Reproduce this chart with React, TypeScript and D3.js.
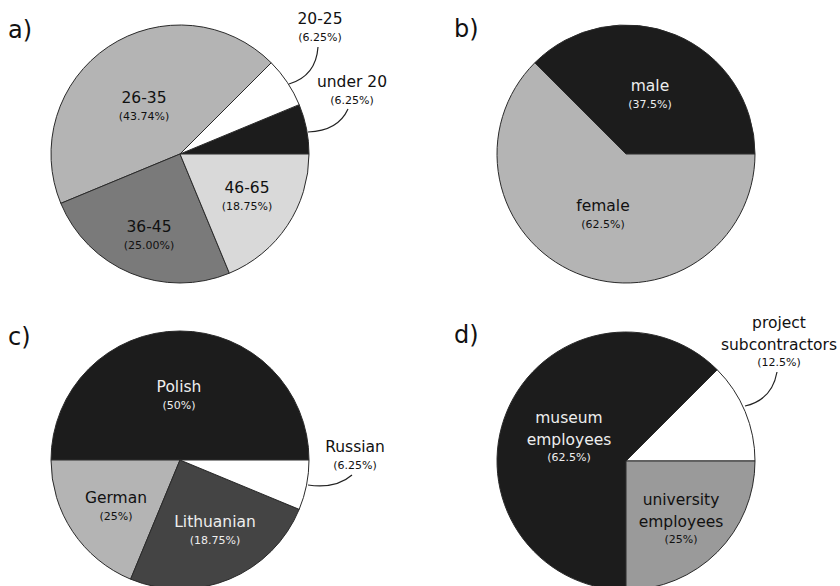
import React from "react";
import * as d3 from "d3";

// ---- data ----
const ageCategories = ["under 20", "20-25", "26-35", "36-45", "46-65"];
const ageShares = [6.25, 6.25, 43.75, 25, 18.75];
const ageLabels = ["(6.25%)", "(6.25%)", "(43.74%)", "(25.00%)", "(18.75%)"];

const genderCategories = ["male", "female"];
const genderShares = [37.5, 62.5];
const genderLabels = ["(37.5%)", "(62.5%)"];

const nationCategories = ["Polish", "German", "Lithuanian", "Russian"];
const nationShares = [50, 18.75, 25, 6.25]; // wedge sizes as drawn
const nationLabels = ["(50%)", "(25%)", "(18.75%)", "(6.25%)"];

const roleCategories = ["project subcontractors", "museum employees", "university employees"];
const roleShares = [12.5, 62.5, 25];
const roleLabels = ["(12.5%)", "(62.5%)", "(25%)"];

// ---- styles / layout ----
const FONT = "'DejaVu Sans', Verdana, sans-serif";
const R = 129;

type LabelSpec = { lines: string[]; x: number; y: number; fill: string; leader?: [number, number, number, number, number, number] };
type PanelSpec = {
  letter: string; lx: number; ly: number;
  cx: number; cy: number;
  shares: number[]; colors: string[];
  labels: LabelSpec[];
  pcts: string[];
};

const panels: PanelSpec[] = [
  {
    letter: "a)", lx: 8, ly: 38, cx: 180, cy: 154,
    shares: ageShares,
    colors: ["#1c1c1c", "#ffffff", "#b4b4b4", "#7a7a7a", "#d9d9d9"],
    pcts: ageLabels,
    labels: [
      { lines: [ageCategories[0]], x: 352, y: 87, fill: "#111", leader: [308, 132, 338, 131, 348, 109] },
      { lines: [ageCategories[1]], x: 320, y: 24, fill: "#111", leader: [289, 84, 316, 76, 318, 47] },
      { lines: [ageCategories[2]], x: 144, y: 103, fill: "#111" },
      { lines: [ageCategories[3]], x: 149, y: 232, fill: "#111" },
      { lines: [ageCategories[4]], x: 247, y: 193, fill: "#111" },
    ],
  },
  {
    letter: "b)", lx: 454, ly: 37, cx: 626, cy: 154,
    shares: genderShares,
    colors: ["#1c1c1c", "#b4b4b4"],
    pcts: genderLabels,
    labels: [
      { lines: [genderCategories[0]], x: 650, y: 91, fill: "#eeeeee" },
      { lines: [genderCategories[1]], x: 603, y: 211, fill: "#111" },
    ],
  },
  {
    letter: "c)", lx: 8, ly: 345, cx: 180, cy: 460,
    shares: nationShares,
    colors: ["#1c1c1c", "#b4b4b4", "#444444", "#ffffff"],
    pcts: nationLabels,
    labels: [
      { lines: [nationCategories[0]], x: 179, y: 392, fill: "#eeeeee" },
      { lines: [nationCategories[1]], x: 116, y: 503, fill: "#111" },
      { lines: [nationCategories[2]], x: 215, y: 527, fill: "#eeeeee" },
      { lines: [nationCategories[3]], x: 355, y: 452, fill: "#111", leader: [308, 485, 336, 489, 352, 475] },
    ],
  },
  {
    letter: "d)", lx: 454, ly: 343, cx: 626, cy: 461,
    shares: roleShares,
    colors: ["#ffffff", "#1c1c1c", "#9a9a9a"],
    pcts: roleLabels,
    labels: [
      { lines: ["project", "subcontractors"], x: 779, y: 328, fill: "#111", leader: [745, 406, 772, 400, 777, 372] },
      { lines: ["museum", "employees"], x: 569, y: 423, fill: "#eeeeee" },
      { lines: ["university", "employees"], x: 681, y: 505, fill: "#111" },
    ],
  },
];

const pie = d3
  .pie<number>()
  .sort(null)
  .value((d) => d)
  .startAngle(Math.PI / 2)
  .endAngle(Math.PI / 2 - 2 * Math.PI);

const arc = d3.arc<d3.PieArcDatum<number>>().innerRadius(0).outerRadius(R);

function Panel({ p }: { p: PanelSpec }) {
  const arcs = pie(p.shares);
  return (
    <g>
      <text x={p.lx} y={p.ly} fontFamily={FONT} fontSize={24} fill="#111">
        {p.letter}
      </text>
      <g transform={`translate(${p.cx},${p.cy})`}>
        {arcs.map((a, i) => (
          <path key={i} d={arc(a) || ""} fill={p.colors[i]} stroke="#2a2a2a" strokeWidth={1} strokeLinejoin="round" />
        ))}
      </g>
      {p.labels.map((l, i) => (
        <g key={i}>
          {l.leader && (
            <path
              d={`M${l.leader[0]},${l.leader[1]} Q${l.leader[2]},${l.leader[3]} ${l.leader[4]},${l.leader[5]}`}
              fill="none"
              stroke="#222"
              strokeWidth={1.2}
            />
          )}
          {l.lines.map((ln, j) => (
            <text key={j} x={l.x} y={l.y + j * 21.5} textAnchor="middle" fontFamily={FONT} fontSize={15.5} fill={l.fill}>
              {ln}
            </text>
          ))}
          <text
            x={l.x}
            y={l.y + (l.lines.length - 1) * 21.5 + 16.5}
            textAnchor="middle"
            fontFamily={FONT}
            fontSize={11}
            fill={l.fill}
          >
            {p.pcts[i]}
          </text>
        </g>
      ))}
    </g>
  );
}

export default function App() {
  return (
    <svg
      width={840}
      height={586}
      viewBox="0 0 840 586"
      style={{ position: "absolute", left: 0, top: 0, background: "#fff", display: "block" }}
    >
      <rect width={840} height={586} fill="#fff" />
      {panels.map((p, i) => (
        <Panel key={i} p={p} />
      ))}
    </svg>
  );
}
